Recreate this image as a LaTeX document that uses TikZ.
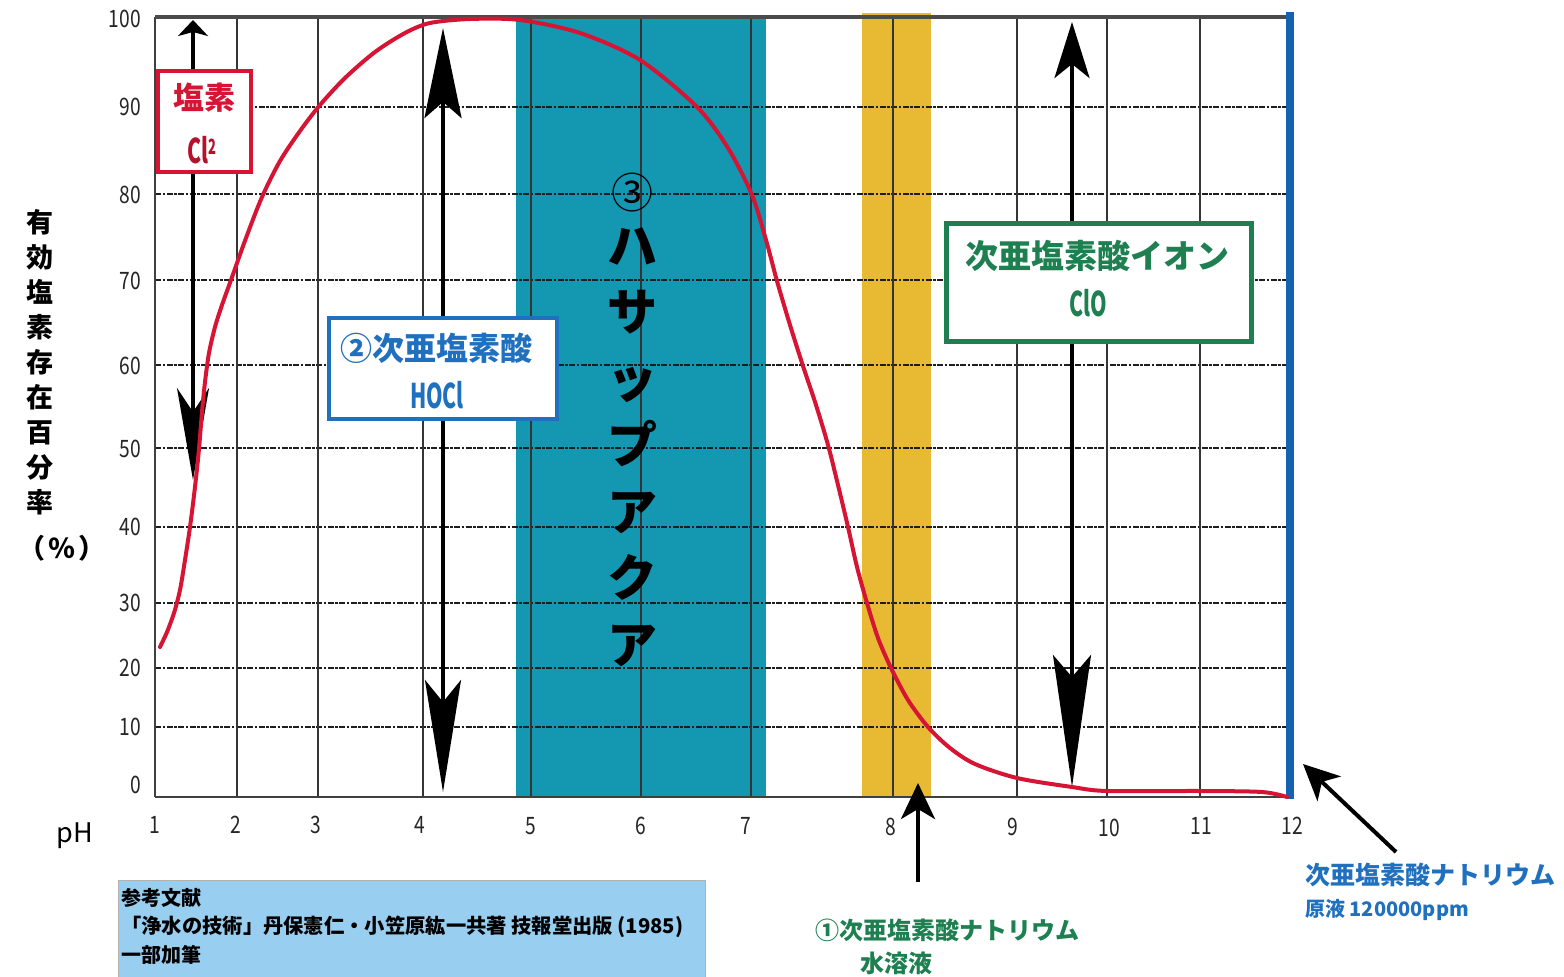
\documentclass[tikz,border=0pt]{standalone}
\usepackage{fontspec}
\setmainfont{Noto Sans CJK JP}
\newfontfamily\nar[FakeStretch=0.8]{Noto Sans CJK JP}
\newfontfamily\narr[FakeStretch=0.62]{Noto Sans CJK JP}
\usetikzlibrary{arrows.meta}
\definecolor{tealband}{RGB}{20,152,178}
\definecolor{yelband}{RGB}{232,186,52}
\definecolor{redc}{RGB}{214,20,52}
\definecolor{blueln}{RGB}{22,98,178}
\definecolor{bluebx}{RGB}{32,112,192}
\definecolor{greenbx}{RGB}{30,128,80}
\definecolor{reffill}{RGB}{152,206,240}
\definecolor{gridc}{RGB}{30,30,30}
\tikzset{
  gridh/.style={draw=gridc, line width=2.6pt, dash pattern=on 6pt off 1.5pt on 2.5pt off 1.5pt},
  gridv/.style={draw=gridc!90, line width=1.5pt},
  axisline/.style={draw=gridc!85, line width=2pt},
  topline/.style={draw=gridc!80, line width=3.2pt},
  ylab/.style={anchor=east, inner sep=0pt, text=black!85, font=\nar\fontsize{24}{24}\selectfont},
  xlab/.style={inner sep=0pt, text=black!85, font=\nar\fontsize{24}{24}\selectfont},
  labbox/.style={draw, fill=white, inner sep=0pt},
  dblarrow/.style={draw=black, line width=4.5pt},
  ptarrow/.style={draw=black, line width=4pt, -{Stealth[length=36pt,width=34pt,inset=10pt]}},
  txt/.style={inner sep=0pt},
}
\begin{document}
\begin{tikzpicture}[x=1pt,y=-1pt]
\useasboundingbox (0,0) rectangle (1564,977);
\fill[white] (0,0) rectangle (1564,977);
% bands
\fill[tealband] (516,17) rectangle (766,797);
\fill[yelband] (862,13) rectangle (931,797);
% grid
\foreach \y in {107,194,280,365,448,527,603,668,727}
  \draw[gridh] (155,\y) -- (1290,\y);
\foreach \x in {237,318,423,531,641,751,893,1017,1107,1200}
  \draw[gridv] (\x,17) -- (\x,797);
\draw[axisline] (155,17) -- (155,797);
\draw[axisline] (155,797) -- (1290,797);
\draw[topline] (155,17) -- (1290,17);
\draw[blueln, line width=8pt] (1290,12) -- (1290,799);
% y labels
\foreach \v/\y in {100/19,90/107,80/195,70/281,60/366,50/449,40/527,30/603,20/668,10/727,0/785}
  \node[ylab] (y\v) at (141,\y) {\v};
% x labels
\foreach \v/\x/\y in {1/155/825,2/236/825,3/316/825,4/420/825,5/531/826,6/641/826,7/746/826,8/891/827,9/1013/827,10/1109/828,11/1201/826,12/1292/826}
  \node[xlab] (x\v) at (\x,\y) {\v};
% axis titles
\node[txt, align=center, font=\bfseries\fontsize{27}{35}\selectfont] (ytitle) at (40,362) {有\\効\\塩\\素\\存\\在\\百\\分\\率};
\node[txt, font=\bfseries\fontsize{27}{27}\selectfont] (ypct) at (62,548) {（\hspace{3pt}％\hspace{3pt}）};
\node[txt, font=\fontsize{27}{27}\selectfont] (ph) at (75,836) {pH};
% center label
\node[txt, font=\fontsize{42}{42}\selectfont] (circ3) at (632,193) {③};
\node[txt, align=center, font=\bfseries\fontsize{50}{66.5}\selectfont] (hasap) at (632,447)
  {ハ\\サ\\ッ\\プ\\ア\\ク\\ア};
% double arrows
\coordinate (clT) at (193,20);
\coordinate (clB) at (193,480);
\draw[dblarrow, {Stealth[length=16pt,width=30pt,inset=4pt]}-{Stealth[length=92pt,width=32pt,inset=24pt]}] (clT) -- (clB);
\coordinate (hoT) at (443,28);
\coordinate (hoB) at (443,792);
\draw[dblarrow, line width=4pt, {Stealth[length=90pt,width=37pt,inset=16pt]}-{Stealth[length=112pt,width=36pt,inset=22pt]}] (hoT) -- (hoB);
\coordinate (ioT) at (1072,22);
\coordinate (ioB) at (1072,787);
\draw[dblarrow, line width=4pt, {Stealth[length=56pt,width=35pt,inset=14pt]}-{Stealth[length=132pt,width=38pt,inset=22pt]}] (ioT) -- (ioB);
% red curve
\draw[redc, line width=4pt, line cap=round, line join=round] plot[smooth, tension=0.5] coordinates {
 (160,647) (167,632) (174,613) (180,590) (185,560) (190,527) (195,487) (199,449) (202,412)
 (205,382) (209,353) (215,327) (222,305) (231,280) (246,238) (262,197) (280,161) (300,131)
 (320,105) (345,78) (375,52) (405,33) (430,23) (470,19) (520,20) (580,33) (640,60) (697,107)
 (728,148) (752,195) (766,240) (777,281) (790,325) (803,366) (816,405) (828,445) (838,485)
 (848,527) (857,567) (867,603) (878,638) (891,668) (908,700) (928,727) (950,748) (975,764)
 (1017,778) (1072,787) (1107,791) (1200,791) (1262,792) (1287,797)};
% label boxes
\node[labbox, draw=redc, line width=4pt, minimum width=93pt, minimum height=101pt] (clbox) at (204.5,121.5) {};
\node[txt, text=redc, font=\bfseries\fontsize{31}{31}\selectfont] (cltxt) at (204,98) {塩素};
\node[txt, text=redc!85!black, font=\narr\bfseries\fontsize{34}{34}\selectfont] (clf) at (202,150) {Cl\raisebox{9pt}{\fontsize{21}{21}\selectfont 2}};
\node[labbox, draw=bluebx, line width=4pt, minimum width=228pt, minimum height=101pt] (hobox) at (443,368.5) {};
\node[txt, text=bluebx, font=\bfseries\fontsize{32}{32}\selectfont] (hotxt) at (436,348) {②次亜塩素酸};
\node[txt, text=bluebx, font=\narr\bfseries\fontsize{34}{34}\selectfont] (hof) at (437,395) {HOCl};
\node[labbox, draw=greenbx, line width=5pt, minimum width=305pt, minimum height=118pt] (iobox) at (1098.5,282) {};
\node[txt, text=greenbx, font=\bfseries\fontsize{33}{33}\selectfont] (iotxt) at (1097,256) {次亜塩素酸イオン};
\node[txt, text=greenbx, font=\narr\bfseries\fontsize{34}{34}\selectfont] (iof) at (1088,303) {ClO};
% reference box
\node[draw=gray!60, fill=reffill, line width=1pt, minimum width=587pt, minimum height=100pt, anchor=north west, inner sep=0pt] (refbox) at (118,880) {};
\node[txt, anchor=west, font=\bfseries\fontsize{20}{20}\selectfont] (ref1) at (121,898) {参考文献};
\node[txt, anchor=west, font=\bfseries\fontsize{20.3}{20}\selectfont] (ref2) at (121,927) {「浄水の技術」丹保憲仁・小笠原紘一共著\ 技報堂出版 (1985)};
\node[txt, anchor=west, font=\bfseries\fontsize{20}{20}\selectfont] (ref3) at (121,955) {一部加筆};
% bottom labels and pointer arrows
\node[txt, anchor=west, text=greenbx, font=\bfseries\fontsize{24}{24}\selectfont] (na1) at (815,930) {①次亜塩素酸ナトリウム};
\node[txt, anchor=west, text=greenbx, font=\bfseries\fontsize{24}{24}\selectfont] (na1b) at (860,963) {水溶液};
\node[txt, anchor=west, text=bluebx, font=\bfseries\fontsize{25}{25}\selectfont] (na2) at (1305,875) {次亜塩素酸ナトリウム};
\node[txt, anchor=west, text=bluebx, font=\bfseries\fontsize{20}{20}\selectfont] (na2b) at (1305,910) {原液 120000ppm};
\coordinate (p8tail) at (918,882);
\coordinate (p8tip) at (918,783);
\draw[ptarrow] (p8tail) -- (p8tip);
\coordinate (p12tail) at (1396,852);
\coordinate (p12tip) at (1303,764);
\draw[ptarrow] (p12tail) -- (p12tip);
\end{tikzpicture}
\end{document}
